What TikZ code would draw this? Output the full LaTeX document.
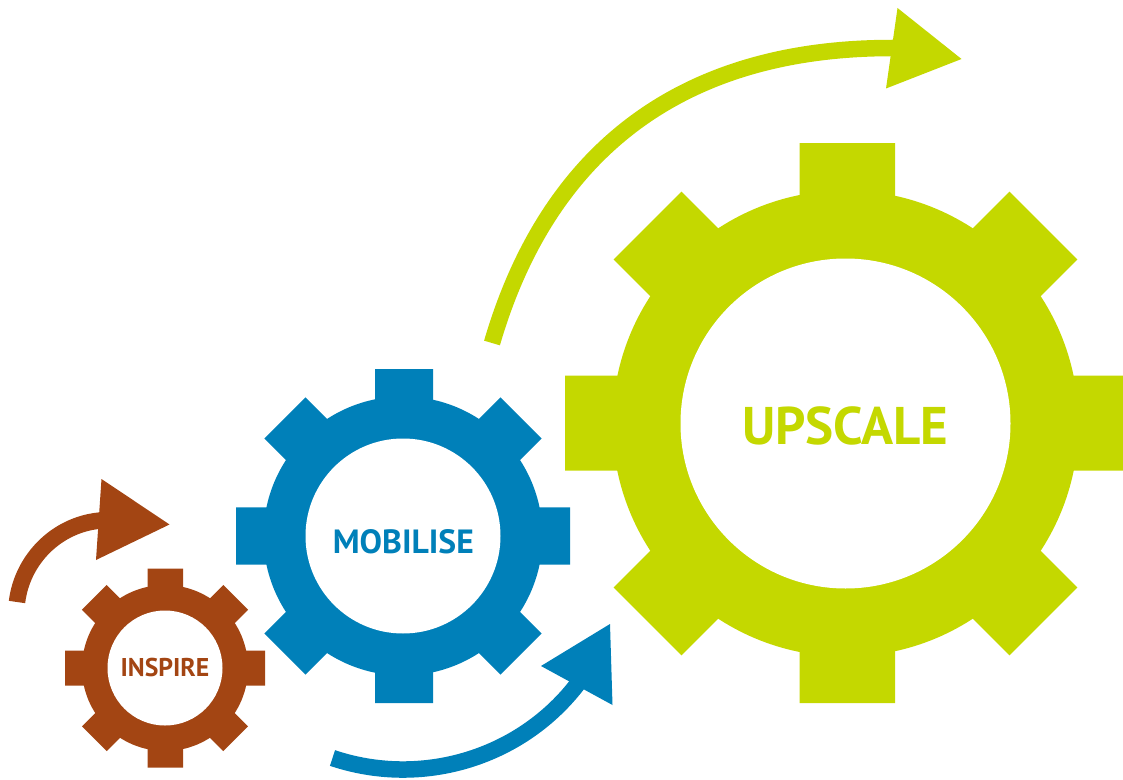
\documentclass[tikz,border=0pt]{standalone}
\usepackage{fontspec}
\setmainfont{PT Sans}
\definecolor{gearGreen}{HTML}{C4D800}
\definecolor{gearBlue}{HTML}{0080B9}
\definecolor{gearBrown}{HTML}{A34513}
\newcommand{\gearshape}[7]{% x, y, tooth radius, body radius, hole radius, tooth half width, colour
  \begin{scope}[shift={(#1,#2)}]
    \fill[#7] (0,0) circle[radius=#4];
    \foreach \a in {45,135,225,315}{
      \fill[#7,rotate=\a] (0,-#6) rectangle (#3,#6);
    }
    \fill[white] (0,0) circle[radius=#5];
  \end{scope}
}
\tikzset{
  sweep/.style={line width=#1,line cap=butt},
  gearlabel/.style={font=\bfseries,inner sep=0pt,anchor=center},
}
\begin{document}
\begin{tikzpicture}[x=1bp,y=-1bp]
\useasboundingbox (0,0) rectangle (1123,780);
% straight teeth
\fill[gearGreen] (799.7,143) rectangle (895,703) (565,375.5) rectangle (1123,470.5);
\fill[gearBlue] (375,369) rectangle (433,703) (236,507.3) rectangle (570,564.7);
\fill[gearBrown] (147.7,568.5) rectangle (183,767.5) (65,650.7) rectangle (265,685.7);
% gears
\gearshape{845.5}{423.5}{280}{233}{165}{48}{gearGreen}
\gearshape{403}{536}{167}{139.5}{97.5}{29}{gearBlue}
\gearshape{165}{668}{100}{83}{57.5}{17.5}{gearBrown}
% labels
\node[gearlabel,text=gearGreen] (upscale) at (845,425.5) {\fontsize{53bp}{53bp}\selectfont UPSCALE};
\node[gearlabel,text=gearBlue] (mobilise) at (403.3,541.5) {\fontsize{33.6bp}{33.6bp}\selectfont MOBILISE};
\node[gearlabel,text=gearBrown] (inspire) at (165,667.5) {\fontsize{25.7bp}{25.7bp}\selectfont INSPIRE};
% sweeping arrows
\coordinate (gs) at (492,343); \coordinate (ge) at (892,48); \coordinate (gi) at (900,48);
\draw[gearGreen,sweep=16.5bp] (gs) .. controls (542.4,170.2) and (662,48) .. (ge) -- (gi);
\fill[gearGreen] (897.5,8) -- (961.5,59) -- (886,88.5) -- cycle;
\coordinate (bs) at (332.5,758); \coordinate (be) at (576,686); \coordinate (bi) at (581,679.6);
\draw[gearBlue,sweep=16.5bp] (bs) .. controls (420.5,787.6) and (518.6,759) .. (be) -- (bi);
\fill[gearBlue] (610,624) -- (612.5,705) -- (541,666) -- cycle;
\coordinate (rs) at (17,602); \coordinate (re) at (98.7,520.7); \coordinate (ri) at (106,520);
\draw[gearBrown,sweep=16.5bp] (rs) .. controls (22.2,559.5) and (56.1,525.3) .. (re) -- (ri);
\fill[gearBrown] (101.5,479) -- (169.5,524.5) -- (96,560) -- cycle;
\end{tikzpicture}
\end{document}
